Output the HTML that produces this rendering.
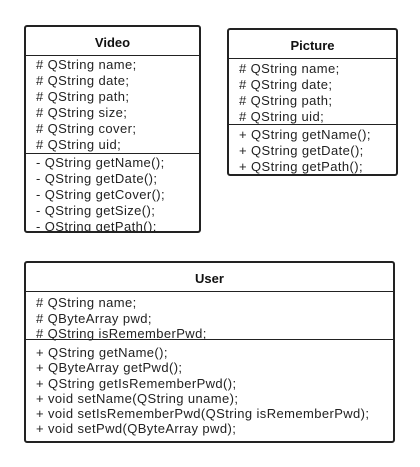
<!DOCTYPE html>
<html><head><meta charset="utf-8"><style>
html,body{margin:0;padding:0;background:#fff;width:420px;height:467px;overflow:hidden}
.box{position:absolute;border:2px solid #222;border-radius:3px;box-sizing:border-box;overflow:hidden;background:#fff}
.t{position:absolute;left:0;right:0;text-align:center;font:bold 13px "Liberation Sans",sans-serif;color:#111}
.h{position:absolute;left:0;right:0;height:0;border-top:1.5px solid #222}
.s{position:absolute;left:10px;font:13px/16px "Liberation Sans",sans-serif;letter-spacing:0.4px;color:#222;white-space:pre;overflow:hidden}
</style></head><body>
<div class="box" style="left:24px;top:25px;width:177px;height:208px">
 <div class="t" style="top:8px">Video</div>
 <div class="h" style="top:28px"></div>
 <div class="s" style="top:30px;height:97px"># QString name;
# QString date;
# QString path;
# QString size;
# QString cover;
# QString uid;</div>
 <div class="h" style="top:126px"></div>
 <div class="s" style="top:128px;height:78px">- QString getName();
- QString getDate();
- QString getCover();
- QString getSize();
- QString getPath();</div>
</div>
<div class="box" style="left:227px;top:28px;width:171px;height:148px">
 <div class="t" style="top:8px">Picture</div>
 <div class="h" style="top:28px"></div>
 <div class="s" style="top:31px;height:64px"># QString name;
# QString date;
# QString path;
# QString uid;</div>
 <div class="h" style="top:94px"></div>
 <div class="s" style="top:97px;height:48px">+ QString getName();
+ QString getDate();
+ QString getPath();</div>
</div>
<div class="box" style="left:24px;top:261px;width:371px;height:182px">
 <div class="t" style="top:8px">User</div>
 <div class="h" style="top:28px"></div>
 <div class="s" style="top:32px;height:46px;line-height:15.5px"># QString name;
# QByteArray pwd;
# QString isRememberPwd;</div>
 <div class="h" style="top:76px"></div>
 <div class="s" style="top:82px;height:95px;line-height:15.3px">+ QString getName();
+ QByteArray getPwd();
+ QString getIsRememberPwd();
+ void setName(QString uname);
+ void setIsRememberPwd(QString isRememberPwd);
+ void setPwd(QByteArray pwd);</div>
</div>
</body></html>
